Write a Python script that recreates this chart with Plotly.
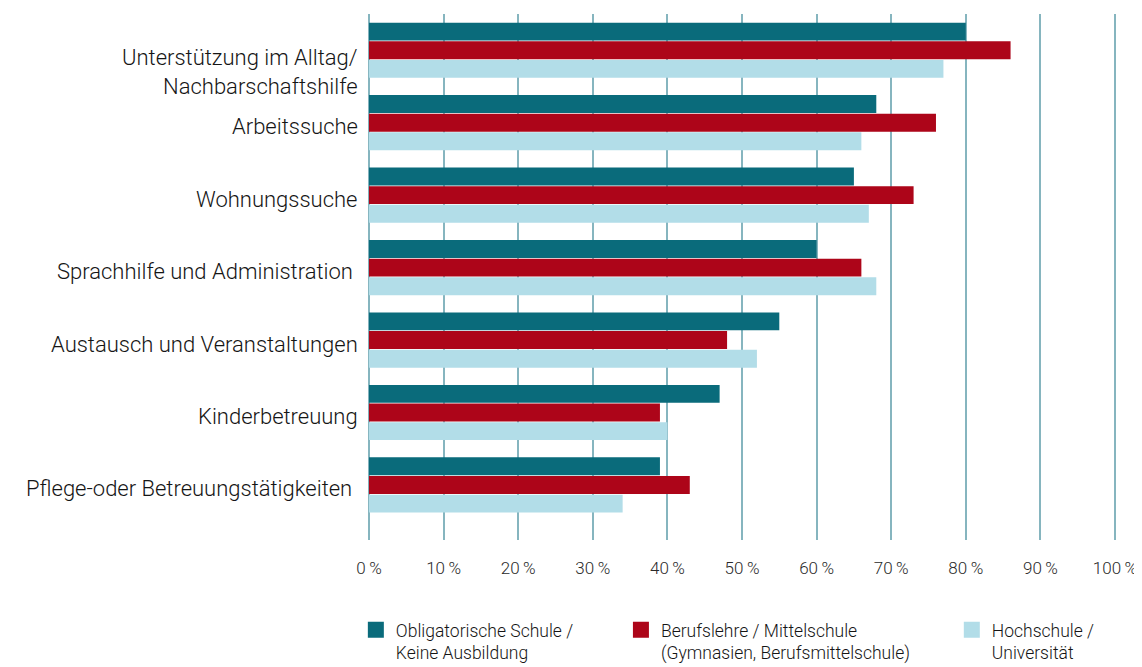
import plotly.graph_objects as go

categories = [
    "Unterstützung im Alltag/<br>Nachbarschaftshilfe",
    "Arbeitssuche",
    "Wohnungssuche",
    "Sprachhilfe und Administration\u00a0",
    "Austausch und Veranstaltungen",
    "Kinderbetreuung",
    "Pflege-oder Betreuungstätigkeiten\u00a0",
]
obligatorisch = [80, 68, 65, 60, 55, 47, 39]
berufslehre = [86, 76, 73, 66, 48, 39, 43]
hochschule = [77, 66, 67, 68, 52, 40, 34]

series_names = [
    "Obligatorische Schule /<br>Keine Ausbildung",
    "Berufslehre / Mittelschule<br>(Gymnasien, Berufsmittelschule)",
    "Hochschule /<br>Universität",
]
colors = ["#0a6b7b", "#ad0519", "#b2dde8"]
tick_vals = [0, 10, 20, 30, 40, 50, 60, 70, 80, 90, 100]
tick_text = [f"{v}\u2009%" for v in tick_vals]

FONT = "Roboto"
TXT = "#151515"
idx = list(range(len(categories)))

fig = go.Figure()
for name, vals, col, lg in zip(series_names, [obligatorisch, berufslehre, hochschule], colors,
                               ["legend", "legend2", "legend3"]):
    fig.add_trace(go.Bar(x=vals, y=idx, orientation="h", marker=dict(color=col, line=dict(width=0)),
                         showlegend=False, name=name))
    fig.add_trace(go.Scatter(x=[None], y=[None], mode="markers", name=name, legend=lg,
                             marker=dict(symbol="square", size=16, color=col)))

for i, c in enumerate(categories):
    fig.add_annotation(x=0, xref="x", y=i, yref="y", text=c, showarrow=False,
                       xanchor="right", yanchor="middle", xshift=-9,
                       yshift=(-22 if i == 0 else -4),
                       font=dict(family=FONT, size=22, color=TXT, weight=300), align="right")

legend_common = dict(yanchor="top", xanchor="left", valign="top", y=-0.1365,
                     font=dict(family=FONT, size=17.5, color=TXT, weight=300),
                     bgcolor="rgba(0,0,0,0)")

fig.update_layout(
    width=1134, height=659,
    margin=dict(l=358, r=24, t=6, b=127, autoexpand=False),
    paper_bgcolor="white", plot_bgcolor="white",
    barmode="group", bargap=0.228, bargroupgap=0.04,
    font=dict(family=FONT, color=TXT),
    xaxis=dict(range=[-0.4, 100.4], tickvals=tick_vals, ticktext=tick_text,
               showgrid=True, gridcolor="#86b5bf", gridwidth=2, zeroline=False,
               ticks="outside", ticklen=13, tickcolor="rgba(0,0,0,0)",
               tickfont=dict(family=FONT, size=17, color="#2a2a2a", weight=300),
               showline=False, automargin=False),
    yaxis=dict(range=[6.76, -0.5], showticklabels=False, showgrid=False, zeroline=False,
               showline=False, tickvals=idx, automargin=False),
    legend=dict(x=-0.0135, **legend_common),
    legend2=dict(x=0.339, **legend_common),
    legend3=dict(x=0.779, **legend_common),
)

fig.write_html("out.html")
